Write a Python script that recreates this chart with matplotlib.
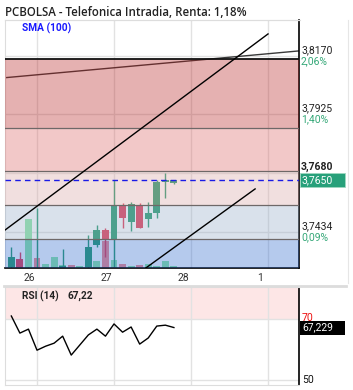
import matplotlib
matplotlib.use("Agg")
import matplotlib.pyplot as plt
from matplotlib.patches import Rectangle
from matplotlib.lines import Line2D
import numpy as np

W, H = 353, 390
DPI = 100

# ---------------- data ----------------
title = "PCBOLSA - Telefonica Intradia, Renta: 1,18%"
sma_label = "SMA (100)"
rsi_label = "RSI (14)"
rsi_last_label = "67,22"

day_ticks = [3, 12, 21, 30]
day_labels = ["26", "27", "28", "1"]

opens  = [3.7287, 3.7320, 3.7270, 3.7272, 3.7262, 3.7262, 3.7280, 3.7280, 3.7274, 3.7287,
          3.7379, 3.7441, 3.7399, 3.7546, 3.7475, 3.7546, 3.7487, 3.7512, 3.7642, 3.7638]
highs  = [3.7370, 3.7349, 3.7285, 3.7532, 3.7276, 3.7278, 3.7362, 3.7284, 3.7284, 3.7420,
          3.7462, 3.7449, 3.7650, 3.7554, 3.7558, 3.7554, 3.7558, 3.7650, 3.7680, 3.7652]
lows   = [3.7270, 3.7270, 3.7260, 3.7265, 3.7255, 3.7255, 3.7270, 3.7265, 3.7268, 3.7280,
          3.7370, 3.7329, 3.7285, 3.7450, 3.7437, 3.7450, 3.7454, 3.7491, 3.7575, 3.7633]
closes = [3.7328, 3.7282, 3.7278, 3.7280, 3.7270, 3.7272, 3.7290, 3.7272, 3.7280, 3.7370,
          3.7441, 3.7399, 3.7546, 3.7492, 3.7550, 3.7450, 3.7512, 3.7642, 3.7650, 3.7650]
volumes = [3000, 6000, 49000, 10000, 4000, 11000, 3000, 3000, 2000, 8000,
           7000, 27000, 8000, 4000, 2000, 3000, 4000, 2000, 7000, 2000]
volume_up = [True, False, True, False, True, True, True, False, True, True,
             True, False, True, False, True, False, True, True, True, True]
rsi = [71.0, 65.4, 66.7, 59.8, 61.1, 62.1, 64.4, 58.2, 61.5, 64.8,
       66.7, 64.4, 68.4, 65.7, 67.4, 61.8, 63.8, 67.7, 68.0, 67.22]

fib_levels = [3.8156, 3.7868, 3.7688, 3.7546, 3.7404, 3.7197]
fib_colors = ["#b52020", "#da6262", "#d7a4a4", "#92a9c6", "#2c68ce"]

sma_x = [-0.74, 33.6]
sma_y = [3.8078, 3.8190]
trend1_x = [-0.74, 30.0]
trend1_y = [3.7441, 3.8261]
trend2_x = [15.74, 28.49]
trend2_y = [3.7283, 3.7613]

last_price = 3.7650
last_price_label = "3,7650"
price_ticks = [3.8170, 3.7925, 3.7680, 3.7434]
price_tick_labels = ["3,8170", "3,7925", "3,7680", "3,7434"]
pct_labels = ["2,06%", "1,40%", "", "0,09%"]

rsi_last = 67.229
rsi_last_text = "67,229"

# ---------------- style ----------------
UP = "#299c6f"
DOWN = "#e53c55"
VOL_UP = "#8fe8a8"
VOL_DOWN = "#f48a90"
GRID = "#e2e2e2"
GREEN_TXT = "#35a878"
plt.rcParams['font.family'] = ['Roboto', 'DejaVu Sans']

fig = plt.figure(figsize=(W / DPI, H / DPI), dpi=DPI)
fig.patch.set_facecolor("white")

def fbox(x0, y0, x1, y1):
    return [x0 / W, 1 - y1 / H, (x1 - x0) / W, (y1 - y0) / H]

ax = fig.add_axes(fbox(5, 20, 299, 268))
rax = fig.add_axes(fbox(5, 287, 299, 385))

xlim = (-0.74, 33.62)
ax.set_xlim(*xlim)
ax.set_ylim(3.72824, 3.83193)
x = np.arange(len(opens))

# grid
for t in day_ticks:
    ax.axvline(t, color=GRID, lw=1, zorder=0.5)
for p in price_ticks:
    ax.axhline(p, color=GRID, lw=1, zorder=0.5)

# volume (bottom overlay, axes-fraction heights)
vol_scale = 248000.0
for i, v in enumerate(volumes):
    ax.bar(i, v / vol_scale, width=0.8, bottom=0,
           color=VOL_UP if volume_up[i] else VOL_DOWN,
           transform=ax.get_xaxis_transform(), zorder=1)

# sma
ax.plot(sma_x, sma_y, color="#3a3a3a", lw=1.0, zorder=1.5)

# candles
for i in range(len(opens)):
    o, h, l, c = opens[i], highs[i], lows[i], closes[i]
    col = UP if c >= o else DOWN
    ax.vlines(i, l, h, color=col, lw=1.0, zorder=2)
    bot = min(o, c)
    ht = max(abs(c - o), 0.0005)
    ax.bar(i, ht, bottom=bot, width=0.8, color=col, zorder=2.1)

# fib bands
for k in range(len(fib_colors)):
    ax.axhspan(fib_levels[k + 1], fib_levels[k], color=fib_colors[k], alpha=0.35, lw=0, zorder=3)
for k, lv in enumerate(fib_levels):
    if k == 0:
        ax.axhline(lv, color="#111111", lw=1.3, zorder=4)
    else:
        ax.axhline(lv, color="#6e6868", lw=0.9, zorder=4)

# trend lines
ax.plot(trend1_x, trend1_y, color="black", lw=1.0, zorder=5)
ax.plot(trend2_x, trend2_y, color="black", lw=1.0, zorder=5)

# last price dashed
ax.axhline(last_price, color="#1a1ae6", lw=1.0, ls=(0, (4, 3)), zorder=5)

ax.set_xticks([])
ax.set_yticks([])
for s in ["top", "left"]:
    ax.spines[s].set_color("#dddddd")
for s in ["right", "bottom"]:
    ax.spines[s].set_color("black")
    ax.spines[s].set_linewidth(1.2)

# day labels
for t, lab in zip(day_ticks, day_labels):
    ax.annotate(lab, xy=(t, 0), xycoords=("data", "axes fraction"),
                xytext=(-8, -10), textcoords="offset pixels",
                ha="center", va="center", fontsize=7.5, color="#333333",
                annotation_clip=False)

# price labels right
for p, lab, pct in zip(price_ticks, price_tick_labels, pct_labels):
    bold = (lab == "3,7680")
    ax.annotate(lab, xy=(1, p), xycoords=("axes fraction", "data"),
                xytext=(2, 6), textcoords="offset pixels",
                ha="left", va="center", fontsize=7.5, color="#222222",
                fontweight="bold" if bold else "normal", annotation_clip=False)
    if pct:
        ax.annotate(pct, xy=(1, p), xycoords=("axes fraction", "data"),
                    xytext=(2, -5), textcoords="offset pixels",
                    ha="left", va="center", fontsize=7.5, color=GREEN_TXT,
                    annotation_clip=False)

# last price box
ydisp = ax.transData.transform((0, last_price))[1]
ypx = H - ydisp
fig.add_artist(Rectangle(((300) / W, 1 - (ypx + 7) / H), 45 / W, 14 / H,
                         transform=fig.transFigure, facecolor="#27a07a",
                         edgecolor="#9fd8c0", lw=0.6))
fig.text(302 / W, 1 - ypx / H, last_price_label, color="white", fontsize=7.5,
         ha="left", va="center")

# title and SMA label
fig.text(5 / W, 1 - 12 / H, title, fontsize=8.3, fontweight="semibold",
         color="#222222", ha="left", va="center", family=["Open Sans", "DejaVu Sans"])
fig.text(22 / W, 1 - 28 / H, sma_label, fontsize=7.3, fontweight="bold",
         color="#1a1aff", ha="left", va="center")

# separators
fig.add_artist(Line2D([5 / W, 300 / W], [1 - 20 / H, 1 - 20 / H], color="#dddddd", lw=0.8))
fig.add_artist(Line2D([4 / W, 346 / W], [1 - 286 / H, 1 - 286 / H], color="#dcdcdc", lw=2))
fig.add_artist(Line2D([348 / W, 348 / W], [1 - 20 / H, 1 - 283 / H], color="#e6e6e6", lw=0.8))

# ---------------- RSI ----------------
rax.set_xlim(*xlim)
rax.set_ylim(48.4, 80.5)
rax.axhspan(70, 100, color="#fde6e6", lw=0, zorder=0)
for t in day_ticks:
    rax.axvline(t, color=GRID, lw=1, zorder=0.5)
rax.axhline(70, color=GRID, lw=1, zorder=0.5)
rax.axhline(50, color=GRID, lw=1, zorder=0.5)
rax.plot(x, rsi, color="black", lw=1.0, zorder=3)
rax.set_xticks([])
rax.set_yticks([])
for s in ["top", "left", "bottom"]:
    rax.spines[s].set_color("#dddddd")
rax.spines["right"].set_color("black")
rax.spines["right"].set_linewidth(1.2)

fig.text(22 / W, 1 - 296 / H, rsi_label, fontsize=7.3, fontweight="bold",
         color="#222222", ha="left", va="center")
fig.text(68 / W, 1 - 296 / H, rsi_last_label, fontsize=7.3, fontweight="bold",
         color="#222222", ha="left", va="center")

rax.annotate("70", xy=(1, 70), xycoords=("axes fraction", "data"),
             xytext=(3, 1), textcoords="offset pixels", ha="left", va="center",
             fontsize=7.5, color="#ee1111", annotation_clip=False)
rax.annotate("50", xy=(1, 50), xycoords=("axes fraction", "data"),
             xytext=(3, 0), textcoords="offset pixels", ha="left", va="center",
             fontsize=7.5, color="#111111", annotation_clip=False)

rdisp = rax.transData.transform((0, rsi_last))[1]
rpx = H - rdisp
fig.add_artist(Rectangle((300 / W, 1 - (rpx + 7) / H), 45 / W, 14 / H,
                         transform=fig.transFigure, facecolor="black", lw=0))
fig.text(302 / W, 1 - rpx / H, rsi_last_text, color="white", fontsize=7.5,
         ha="left", va="center")

fig.savefig("out.png", dpi=DPI, facecolor="white")
